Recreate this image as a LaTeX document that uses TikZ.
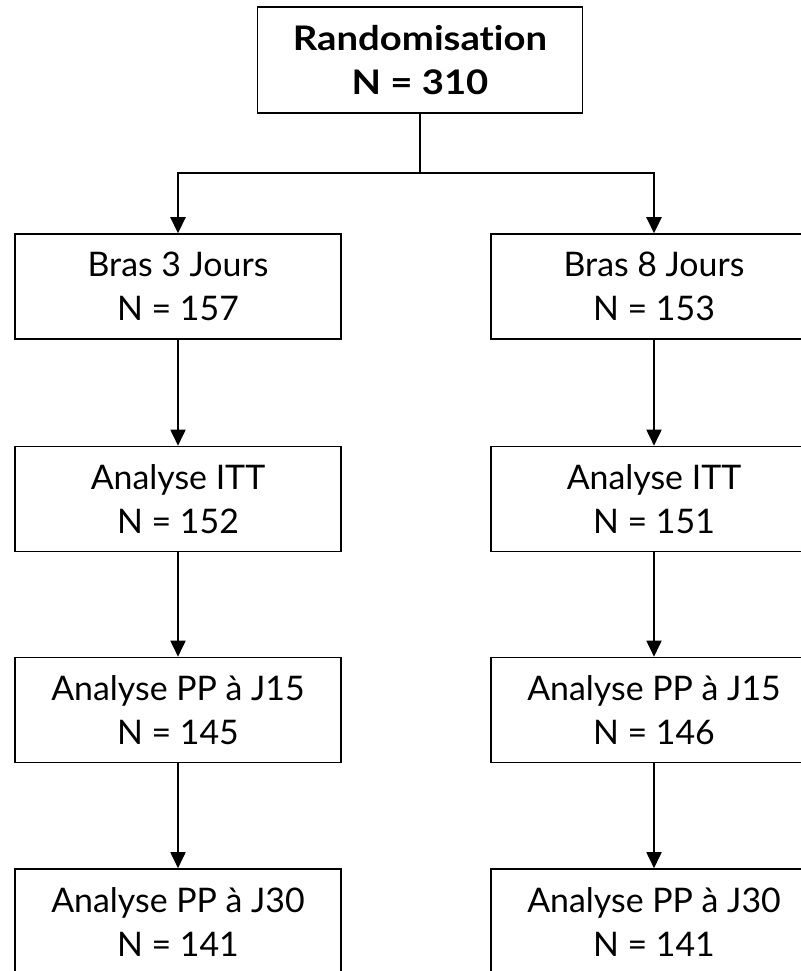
\documentclass[tikz,border=0pt]{standalone}
\usepackage{fontspec}
\setmainfont{Lato}[Ligatures={NoCommon}]
\newfontfamily\topfont{Lato}[Ligatures={NoCommon}, FakeStretch=1.13]
\usetikzlibrary{arrows.meta}
\tikzset{
  flowbox/.style={draw=black, line width=1.6bp, fill=white, minimum width=326bp, minimum height=105bp, align=center, inner sep=0pt, font=\fontsize{34}{44}\selectfont},
  topbox/.style={flowbox, minimum width=325bp, minimum height=106bp, font=\topfont\fontsize{34}{45}\selectfont\bfseries},
  arr/.style={line width=1.8bp, -{Triangle[width=15bp,length=16bp]}},
  arrthick/.style={line width=2.6bp, -{Triangle[width=15bp,length=16bp]}}
}
\begin{document}
\begin{tikzpicture}[x=1bp,y=-1bp]
\useasboundingbox (0,0) rectangle (801,971);
\clip (0,0) rectangle (801,971);
\node[topbox] (top) at (420,60) {Randomisation\\N = 310};
\node[flowbox] (L1) at (178,286.5) {Bras 3 Jours\\N = 157};
\node[flowbox] (R1) at (654,286.5) {Bras 8 Jours\\N = 153};
\node[flowbox] (L2) at (178,499) {Analyse ITT\\N = 152};
\node[flowbox] (R2) at (654,499) {Analyse ITT\\N = 151};
\node[flowbox] (L3) at (178,710) {Analyse PP à J15\\N = 145};
\node[flowbox] (R3) at (654,710) {Analyse PP à J15\\N = 146};
\node[flowbox, minimum height=106bp] (L4) at (178,922) {Analyse PP à J30\\N = 141};
\node[flowbox, minimum height=106bp] (R4) at (654,922) {Analyse PP à J30\\N = 141};
\coordinate (split) at (420,173);
\draw[line width=2.6bp] (top.south) -- (split);
\draw[arrthick] (split) -| (L1.north);
\draw[arrthick] (split) -| (R1.north);
\draw[arr] (L1) -- (L2);
\draw[arr] (L2) -- (L3);
\draw[arr] (L3) -- (L4);
\draw[arr] (R1) -- (R2);
\draw[arr] (R2) -- (R3);
\draw[arr] (R3) -- (R4);
\end{tikzpicture}
\end{document}
